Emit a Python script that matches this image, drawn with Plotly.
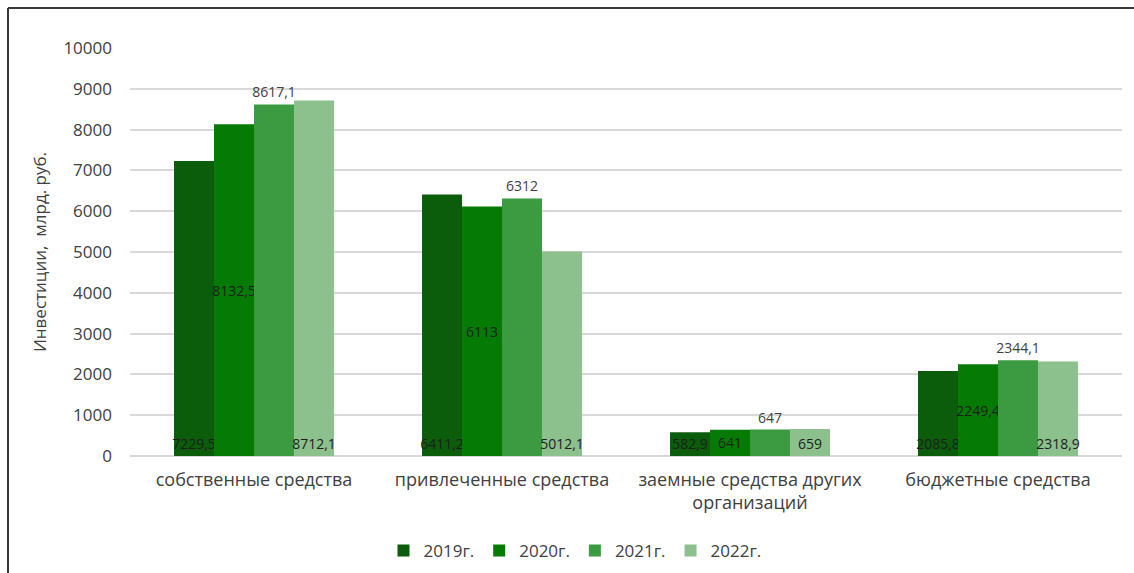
import plotly.graph_objects as go

categories = ["собственные средства", "привлеченные средства",
              "заемные средства других<br>организаций", "бюджетные средства"]
years = ["2019г.", "2020г.", "2021г.", "2022г."]
v2019 = [7229.5, 6411.2, 582.9, 2085.8]
v2020 = [8132.5, 6113, 641, 2249.4]
v2021 = [8617.1, 6312, 647, 2344.1]
v2022 = [8712.1, 5012.1, 659, 2318.9]
y_ticks = [0, 1000, 2000, 3000, 4000, 5000, 6000, 7000, 8000, 9000, 10000]

series = [v2019, v2020, v2021, v2022]
colors = ["#0b5c0b", "#057a05", "#3c9a40", "#8cc08c"]
# label placement per series: inside at base, inside centered, above, inside at base
placements = [("inside", "start"), ("inside", "middle"), ("outside", "end"), ("inside", "start")]


def fmt(v):
    return f"{v:g}".replace(".", ",")


FONT = "Open Sans"
fig = go.Figure()
for name, vals, col, (pos, anchor) in zip(years, series, colors, placements):
    fig.add_trace(go.Bar(
        x=categories, y=vals, name=name,
        marker=dict(color=col, line=dict(width=0)),
        text=[fmt(v) for v in vals],
        textposition=pos,
        insidetextanchor=anchor,
        textangle=0,
        constraintext="none",
        textfont=dict(family=FONT, size=14, color="#1e1e1e"),
        outsidetextfont=dict(family=FONT, size=14, color="#404040"),
        cliponaxis=False,
    ))

W, H = 1134, 573
L, R, T, B = 130, 12, 48, 117
pw, ph = W - L - R, H - T - B


def px_x(x):
    return (x - L) / pw


def px_y(y):
    return 1 - (y - T) / ph


border = dict(color="#3a3a3a", width=2)
fig.update_layout(
    width=W, height=H,
    margin=dict(l=L, r=R, t=T, b=B, autoexpand=False),
    paper_bgcolor="white", plot_bgcolor="white",
    barmode="group", bargap=0.355, bargroupgap=0,
    font=dict(family=FONT, color="#404040"),
    uniformtext=dict(minsize=14, mode="show"),
    showlegend=True,
    legend=dict(orientation="h", x=px_x(575), xanchor="center",
                y=px_y(551), yanchor="middle",
                font=dict(family=FONT, size=17, color="#404040"),
                itemwidth=30, traceorder="normal"),
    xaxis=dict(showgrid=False, showline=False, ticks="", automargin=False,
               ticklabelstandoff=11,
               tickfont=dict(family=FONT, size=18, color="#404040")),
    yaxis=dict(range=[0, 10000], tickvals=y_ticks,
               ticktext=[str(t) for t in y_ticks], showgrid=True,
               gridcolor="#d9d9d9", gridwidth=1.5, zeroline=True,
               zerolinecolor="#d9d9d9", zerolinewidth=1.5, showline=False,
               ticks="", ticklabelstandoff=17, automargin=False,
               tickfont=dict(family=FONT, size=17, color="#404040"),
               title=dict(text="Инвестиции,  млрд. руб.", standoff=12,
                          font=dict(family=FONT, size=17, color="#404040"))),
    shapes=[
        dict(type="line", xref="paper", yref="paper",
             x0=px_x(8), x1=px_x(W), y0=px_y(8), y1=px_y(8), line=border),
        dict(type="line", xref="paper", yref="paper",
             x0=px_x(8), x1=px_x(8), y0=px_y(8), y1=px_y(H), line=border),
    ],
)

fig.write_html("out.html")
